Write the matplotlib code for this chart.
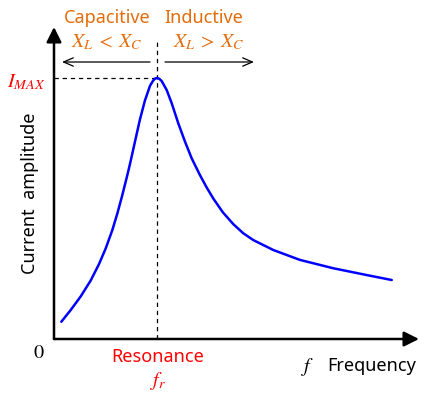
import matplotlib.pyplot as plt

plt.rcParams['font.family'] = ['Noto Sans', 'DejaVu Sans']
plt.rcParams['mathtext.fontset'] = 'stix'

# resonance curve
# frequency relative to f_r, current relative to I_MAX
freq = [0.071, 0.162, 0.259, 0.356, 0.437, 0.502, 0.566, 0.615, 0.663,
        0.712, 0.738, 0.786, 0.835, 0.883, 0.932, 0.964, 0.982, 1.000,
        1.023, 1.046, 1.094, 1.143, 1.207, 1.272, 1.337, 1.417, 1.483,
        1.547, 1.640, 1.741, 1.838, 1.935, 2.129, 2.388, 2.712, 3.036, 3.279]
amp = [0.066, 0.111, 0.163, 0.224, 0.287, 0.347, 0.417, 0.481, 0.551,
       0.628, 0.671, 0.756, 0.842, 0.914, 0.970, 0.991, 0.998, 1.000,
       0.997, 0.988, 0.954, 0.903, 0.826, 0.756, 0.692, 0.628, 0.580,
       0.538, 0.485, 0.440, 0.405, 0.379, 0.341, 0.303, 0.271, 0.245, 0.226]
f_r = 1.0
i_max = 1.0

orange = '#E46C0A'
red = '#FF0000'

# pixel layout of the original drawing
x0_px, y0_px = 54, 339
x_scale, y_scale = 103, 261


def to_data(px, py):
    return (px - x0_px) / x_scale, (y0_px - py) / y_scale


fig = plt.figure(figsize=(4.36, 3.99), dpi=100)
ax = fig.add_axes([0, 0, 1, 1])
xmin, ymin = to_data(0, 399)
xmax, ymax = to_data(436, 0)
ax.set_xlim(xmin, xmax)
ax.set_ylim(ymin, ymax)
ax.axis('off')

# axes with arrow heads
axis_arrow = dict(arrowstyle='-|>,head_length=0.9,head_width=0.45', lw=1.8,
                  color='black', shrinkA=0, shrinkB=0)
ax.annotate('', xy=to_data(419, y0_px), xytext=(0, 0), arrowprops=axis_arrow)
ax.annotate('', xy=to_data(x0_px, 27), xytext=(0, 0), arrowprops=axis_arrow)

# curve
ax.plot(freq, amp, color='#0000FF', lw=1.8, solid_capstyle='round',
        solid_joinstyle='round', zorder=3)

# guide lines
ax.plot([0, f_r], [i_max, i_max], color='black', lw=0.9, ls=(0, (3.5, 3)))
ax.plot([f_r, f_r], [0, to_data(0, 42)[1]], color='black', lw=0.9, ls=(0, (3.5, 3)))

# region arrows
thin_arrow = dict(arrowstyle='->,head_length=0.7,head_width=0.3', lw=0.9,
                  color='black', shrinkA=0, shrinkB=0)
ax.annotate('', xy=to_data(62, 62), xytext=to_data(150, 62), arrowprops=thin_arrow)
ax.annotate('', xy=to_data(254, 62), xytext=to_data(165, 62), arrowprops=thin_arrow)

# labels
fs = 13
ms = 14.5
ax.text(*to_data(107, 18), 'Capacitive', color=orange, fontsize=fs, ha='center', va='center')
ax.text(*to_data(204, 18), 'Inductive', color=orange, fontsize=fs, ha='center', va='center')
ax.text(*to_data(107, 42), r'$X_L\:<\:X_C$', color=orange, fontsize=ms, ha='center', va='center')
ax.text(*to_data(209, 42), r'$X_L\:>\:X_C$', color=orange, fontsize=ms, ha='center', va='center')
ax.text(*to_data(26, 82), r'$I_{MAX}$', color=red, fontsize=ms, ha='center', va='center')
ax.text(*to_data(39, 353), r'$0$', color='black', fontsize=ms, ha='center', va='center')
ax.text(*to_data(158, 357), 'Resonance', color=red, fontsize=fs, ha='center', va='center')
ax.text(*to_data(158, 381), r'$f_r$', color=red, fontsize=ms, ha='center', va='center')
ax.text(*to_data(308, 367), r'$f$', color='black', fontsize=ms, ha='center', va='center')
ax.text(*to_data(372, 366), 'Frequency', color='black', fontsize=fs, ha='center', va='center')
ax.text(*to_data(30, 193), 'Current  amplitude', color='black', fontsize=fs,
        ha='center', va='center', rotation=90)

fig.savefig('out.png', dpi=100)
